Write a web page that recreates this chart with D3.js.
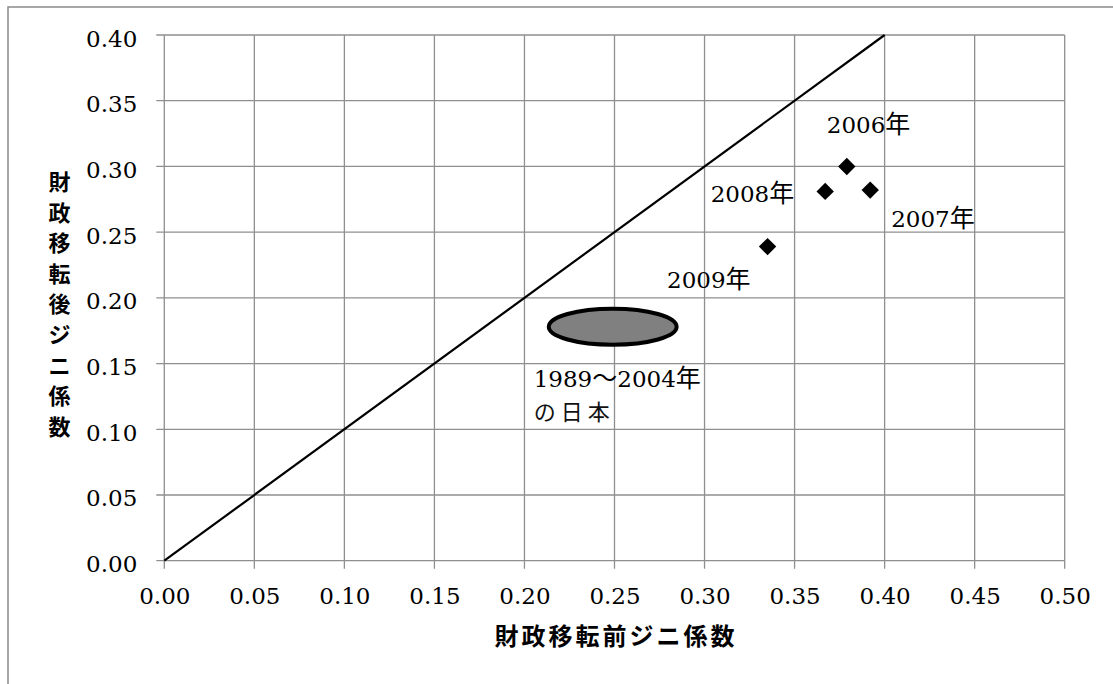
<!DOCTYPE html>
<html>
<head>
<meta charset="utf-8">
<script src="https://cdn.jsdelivr.net/npm/d3@7"></script>
<style>
  html, body { margin: 0; padding: 0; background: #fff; }
  svg { display: block; }
  .num { font-family: "DejaVu Serif", "Liberation Serif", serif; font-size: 23px; }
  .cjk { font-family: "Noto Sans CJK JP", sans-serif; }
</style>
</head>
<body>
<svg id="chart" width="1113" height="684"></svg>
<script>
// Gini coefficient before (x) and after (y) fiscal transfers
const years = ["2006", "2007", "2008", "2009"];
const yearSuffix = "年";
const giniBefore = [0.379, 0.392, 0.367, 0.335];
const giniAfter = [0.300, 0.282, 0.281, 0.239];

// Japan 1989–2004 shown as a shaded region (centre and half-extents)
const japanCentre = [0.249, 0.178];
const japanHalfSpan = [0.0355, 0.0137];
const japanLabel = ["1989", "～", "2004", "年", "の日本"];

// 45-degree reference line
const equalityLine = [[0, 0], [0.4, 0.4]];

const xTicks = [0, 0.05, 0.1, 0.15, 0.2, 0.25, 0.3, 0.35, 0.4, 0.45, 0.5];
const yTicks = [0, 0.05, 0.1, 0.15, 0.2, 0.25, 0.3, 0.35, 0.4];
const xTitle = "財政移転前ジニ係数";
const yTitle = "財政移転後ジニ係数";

const svg = d3.select("#chart");
const gridColor = "#8f8f8f";

const x = d3.scaleLinear().domain([0, 0.5]).range([164.3, 1064.7]);
const y = d3.scaleLinear().domain([0, 0.4]).range([560.7, 35]);

// outer frame
svg.append("rect")
  .attr("x", 8).attr("y", 7).attr("width", 1110).attr("height", 690)
  .attr("fill", "none").attr("stroke", "#8a8a8a").attr("stroke-width", 1.5);

// grid
const grid = svg.append("g").attr("stroke", gridColor).attr("stroke-width", 1.3);
grid.selectAll("line.v").data(xTicks).join("line")
  .attr("class", "v")
  .attr("x1", d => x(d)).attr("x2", d => x(d))
  .attr("y1", y(0.4)).attr("y2", y(0) + 8);
grid.selectAll("line.h").data(yTicks).join("line")
  .attr("class", "h")
  .attr("y1", d => y(d)).attr("y2", d => y(d))
  .attr("x1", x(0) - 8).attr("x2", x(0.5));

// axes (labels only; tick lines come from the grid above)
const xAxis = svg.append("g")
  .attr("transform", `translate(0,${y(0)})`)
  .call(d3.axisBottom(x).tickValues(xTicks).tickFormat(d3.format(".2f")).tickSize(0));
xAxis.attr("font-family", null).attr("font-size", null);
xAxis.select(".domain").remove();
xAxis.selectAll("text")
  .attr("class", "num")
  .attr("y", 43).attr("dy", 0)
  .attr("fill", "#000");

const yAxis = svg.append("g")
  .attr("transform", `translate(${x(0)},0)`)
  .call(d3.axisLeft(y).tickValues(yTicks).tickFormat(d3.format(".2f")).tickSize(0));
yAxis.attr("font-family", null).attr("font-size", null);
yAxis.select(".domain").remove();
yAxis.selectAll("text")
  .attr("class", "num")
  .attr("x", -27).attr("dy", 11)
  .attr("fill", "#000");

// equality line
svg.append("path")
  .attr("d", d3.line().x(d => x(d[0])).y(d => y(d[1]))(equalityLine))
  .attr("stroke", "#000").attr("stroke-width", 2.2).attr("fill", "none");

// Japan region
svg.append("ellipse")
  .attr("cx", x(japanCentre[0])).attr("cy", y(japanCentre[1]))
  .attr("rx", x(japanHalfSpan[0]) - x(0))
  .attr("ry", y(0) - y(japanHalfSpan[1]))
  .attr("fill", "#808080").attr("stroke", "#000").attr("stroke-width", 4);

const jx = x(japanCentre[0]) - 79;
const jy = y(japanCentre[1]);
const jt = svg.append("text")
  .attr("class", "num")
  .attr("x", jx).attr("y", jy + 60);
jt.append("tspan").text(japanLabel[0]);
jt.append("tspan").attr("class", "cjk").style("font-size", "25px").text(japanLabel[1]);
jt.append("tspan").text(japanLabel[2]);
jt.append("tspan").attr("class", "cjk").style("font-size", "25px").text(japanLabel[3]);
svg.append("text")
  .attr("class", "cjk")
  .attr("x", jx).attr("y", jy + 93)
  .style("font-size", "22px")
  .style("font-weight", 400)
  .style("letter-spacing", "5px").attr("fill", "#111")
  .text(japanLabel[4]);

// yearly points
const points = years.map((yr, i) => ({ yr, bx: giniBefore[i], ay: giniAfter[i] }));
const diamond = s => `M0,${-s}L${s},0L0,${s}L${-s},0Z`;
svg.selectAll("path.pt").data(points).join("path")
  .attr("class", "pt")
  .attr("transform", d => `translate(${x(d.bx)},${y(d.ay)})`)
  .attr("d", diamond(8.7))
  .attr("fill", "#000");

// label placement around each point
const labelPlace = {
  "2006": { dx: -20, dy: -33, anchor: "start" },
  "2007": { dx: 21, dy: 37, anchor: "start" },
  "2008": { dx: -31, dy: 11, anchor: "end" },
  "2009": { dx: -17, dy: 41, anchor: "end" }
};
const pl = svg.selectAll("text.pl").data(points).join("text")
  .attr("class", "pl num")
  .attr("x", d => x(d.bx) + labelPlace[d.yr].dx)
  .attr("y", d => y(d.ay) + labelPlace[d.yr].dy)
  .attr("text-anchor", d => labelPlace[d.yr].anchor);
pl.append("tspan").text(d => d.yr);
pl.append("tspan").attr("class", "cjk").style("font-size", "25px").text(yearSuffix);

// axis titles
svg.append("text")
  .attr("class", "cjk")
  .attr("x", (x(0) + x(0.5)) / 2 + 1.5).attr("y", 645)
  .attr("text-anchor", "middle")
  .style("font-size", "24px")
  .style("font-weight", 700).style("letter-spacing", "3px")
  .text(xTitle);

svg.append("g").selectAll("text").data(Array.from(yTitle)).join("text")
  .attr("class", "cjk")
  .attr("x", 59.5)
  .attr("y", (d, i) => 180 + i * 30.6)
  .attr("text-anchor", "middle")
  .attr("dominant-baseline", "central")
  .style("font-size", "22px")
  .style("font-weight", 700)
  .text(d => d);
</script>
</body>
</html>
